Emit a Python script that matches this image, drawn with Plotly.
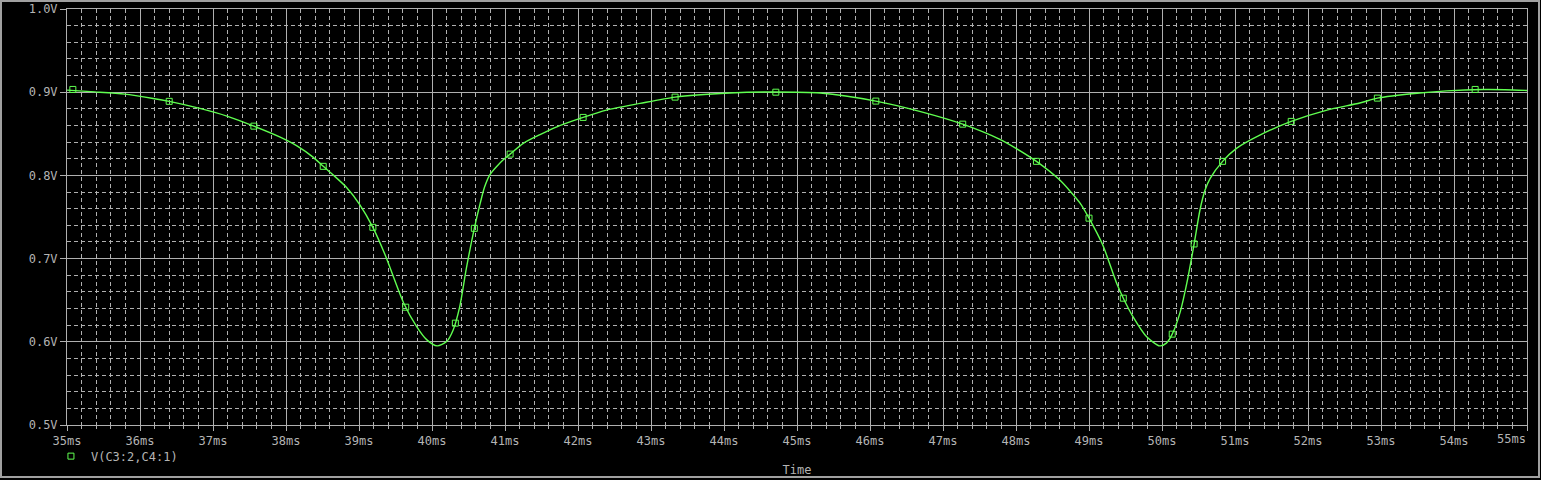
import plotly.graph_objects as go

# Trace samples (time in ms, voltage in V)
time_ms = [35.00, 35.38, 35.79, 36.18, 36.40, 36.82, 37.20, 37.56, 37.92, 38.15, 38.37, 38.51,
           38.64, 38.83, 39.01, 39.19, 39.36, 39.61, 39.79, 39.93, 40.07, 40.20, 40.29,
           40.38, 40.47, 40.58, 40.66, 40.72, 40.79, 40.89, 40.98, 41.07, 41.25, 41.48,
           41.71, 42.07, 42.39, 42.85, 43.33, 44.08, 44.60, 45.32, 46.08, 46.68, 47.27,
           47.78, 48.00, 48.28, 48.60, 48.88, 49.00, 49.19, 49.38, 49.47, 49.61, 49.79,
           49.97, 50.06, 50.14, 50.25, 50.34, 50.44, 50.52, 50.59, 50.66, 50.83, 51.02,
           51.34, 51.77, 52.26, 52.71, 52.95, 53.53, 53.90, 54.40, 54.70, 55.00]
voltage = [0.9025, 0.9004, 0.8977, 0.8925, 0.8890, 0.8805, 0.8710, 0.8592, 0.8460, 0.8355, 0.8220, 0.8109,
           0.8010, 0.7855, 0.7650, 0.7376, 0.7040, 0.6470, 0.6183, 0.6023, 0.5951, 0.6003, 0.6143,
           0.6423, 0.6880, 0.7364, 0.7664, 0.7860, 0.8004, 0.8110, 0.8190, 0.8256, 0.8385, 0.8490,
           0.8584, 0.8697, 0.8785, 0.8865, 0.8941, 0.8990, 0.9003, 0.8990, 0.8893, 0.8770, 0.8616,
           0.8433, 0.8325, 0.8169, 0.7944, 0.7664, 0.7486, 0.7160, 0.6700, 0.6524, 0.6290, 0.6060,
           0.5951, 0.5984, 0.6092, 0.6360, 0.6704, 0.7176, 0.7584, 0.7824, 0.7965, 0.8169, 0.8325,
           0.8484, 0.8649, 0.8785, 0.8870, 0.8929, 0.8990, 0.9016, 0.9032, 0.9030, 0.9021]

# Marker positions
marker_t = [35.08, 36.40, 37.56, 38.51, 39.19, 39.64, 40.32, 40.58, 41.07, 42.07, 43.33, 44.71,
            46.08, 47.27, 48.28, 49.00, 49.47, 50.14, 50.44, 50.83, 51.77, 52.95, 54.29]
marker_v = [0.9033, 0.8890, 0.8592, 0.8109, 0.7376, 0.6416, 0.6224, 0.7364, 0.8256, 0.8697, 0.8941, 0.9000,
            0.8893, 0.8616, 0.8169, 0.7486, 0.6524, 0.6092, 0.7176, 0.8169, 0.8649, 0.8929, 0.9033]

x_ticks = list(range(35, 56))
x_labels = [f"{t}ms" for t in x_ticks]
y_ticks = [0.5, 0.6, 0.7, 0.8, 0.9, 1.0]
y_labels = ["0.5V", "0.6V", "0.7V", "0.8V", "0.9V", "1.0V"]
series_name = "V(C3:2,C4:1)"

GREEN = "#60ff50"
GRID = "#b0b0b0"
TEXT = "#b4b4b4"
W, H = 1541, 480
L, R, T, B = 67, 14, 9, 55

# the last x label sits left of its tick (drawn as annotation)
axis_labels = x_labels[:-1] + [""]

fig = go.Figure()
fig.add_trace(go.Scatter(x=time_ms, y=voltage, mode="lines",
                         line=dict(color=GREEN, width=1.4, shape="spline", smoothing=0.7),
                         showlegend=False, hoverinfo="skip"))
fig.add_trace(go.Scatter(x=marker_t, y=marker_v, mode="markers", name=series_name,
                         marker=dict(symbol="square-open", size=6, color=GREEN,
                                     line=dict(color=GREEN, width=1))))

font = dict(family="DejaVu Sans Mono", size=12, color=TEXT)

fig.update_layout(
    width=W, height=H,
    margin=dict(l=L, r=R, t=T, b=B, pad=0, autoexpand=False),
    paper_bgcolor="black", plot_bgcolor="black",
    font=font,
    showlegend=True,
    legend=dict(x=-0.011, y=-0.04, xanchor="left", yanchor="top",
                bgcolor="rgba(0,0,0,0)", font=font, itemwidth=30),
    xaxis=dict(range=[35, 55], tickvals=x_ticks, ticktext=axis_labels,
               automargin=False, ticklabeloverflow="allow",
               showgrid=True, gridcolor=GRID, gridwidth=1,
               showline=True, linecolor=GRID, linewidth=1, mirror=True,
               ticks="outside", ticklen=5, tickcolor=GRID,
               zeroline=False,
               minor=dict(dtick=0.2, showgrid=True, gridcolor=GRID, griddash="4px,3px",
                          ticks="outside", ticklen=3, tickcolor=GRID),
               title=dict(text="Time", font=font, standoff=18),
               tickfont=font),
    yaxis=dict(range=[0.5, 1.0], tickvals=y_ticks, ticktext=y_labels,
               automargin=False, ticklabeloverflow="allow",
               showgrid=True, gridcolor=GRID, gridwidth=1,
               showline=True, linecolor=GRID, linewidth=1, mirror=True,
               ticks="outside", ticklen=6, tickcolor=GRID,
               zeroline=False,
               minor=dict(dtick=0.02, showgrid=True, gridcolor=GRID, griddash="4px,3px"),
               tickfont=font),
)

fig.add_annotation(x=x_ticks[-1], xref="x", y=0, yref="paper", text=x_labels[-1],
                   showarrow=False, xanchor="right", yanchor="top", yshift=-6,
                   font=font, borderpad=0)

# window frame around the whole picture
pw, ph = W - L - R, H - T - B
def px(xp):
    return (xp - L) / pw
def py(yp):
    return (H - B - yp) / ph
fig.add_shape(type="rect", xref="paper", yref="paper",
              x0=px(1), x1=px(1539), y0=py(477), y1=py(1),
              line=dict(color="#a0a0a0", width=2), layer="below")

fig.write_html("out.html", config={"displayModeBar": False},
               post_script="document.body.style.margin='0';document.body.style.padding='0';")
